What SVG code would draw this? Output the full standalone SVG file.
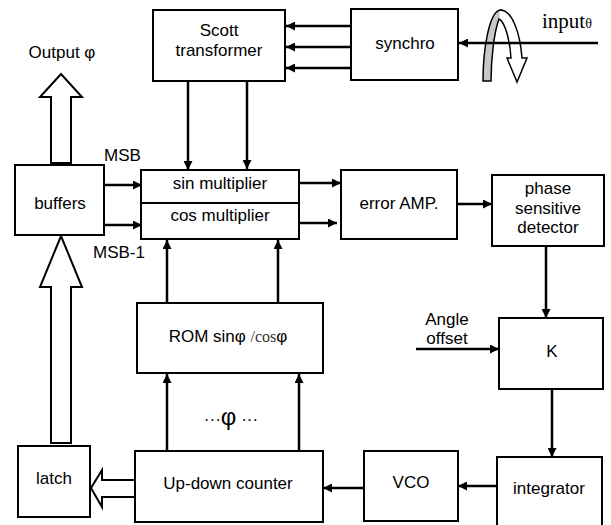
<svg xmlns="http://www.w3.org/2000/svg" width="611" height="525" viewBox="0 0 611 525">
<style>
  .box{fill:#fff;stroke:#000;stroke-width:2}
  .t{font-family:"Liberation Sans",Arial,sans-serif;font-size:17px;fill:#000;text-anchor:middle}
  .ln{stroke:#000;stroke-width:2.5;fill:none}
  .hollow{fill:#fff;stroke:#000;stroke-width:2}
</style>
<defs>
  <marker id="ah" viewBox="0 0 10 10" refX="10" refY="5" markerWidth="11" markerHeight="9" markerUnits="userSpaceOnUse" orient="auto">
    <path d="M0,0 L10,5 L0,10 Z" fill="#000"/>
  </marker>
</defs>
<rect width="611" height="525" fill="#fff"/>

<g id="connectors">
  <line class="ln" x1="351" y1="26" x2="286" y2="26" marker-end="url(#ah)"/>
  <line class="ln" x1="351" y1="47" x2="286" y2="47" marker-end="url(#ah)"/>
  <line class="ln" x1="351" y1="68" x2="286" y2="68" marker-end="url(#ah)"/>
  <line class="ln" x1="188" y1="81" x2="188" y2="170" marker-end="url(#ah)"/>
  <line class="ln" x1="247" y1="80" x2="247" y2="169" marker-end="url(#ah)"/>
  <line class="ln" x1="104" y1="185" x2="142" y2="185" marker-end="url(#ah)"/>
  <line class="ln" x1="100" y1="225" x2="142" y2="225" marker-end="url(#ah)"/>
  <line class="ln" x1="297" y1="183" x2="341" y2="183" marker-end="url(#ah)"/>
  <line class="ln" x1="297" y1="223" x2="337" y2="223" marker-end="url(#ah)"/>
  <line class="ln" x1="454" y1="204" x2="492" y2="204" marker-end="url(#ah)"/>
  <line class="ln" x1="546" y1="246" x2="546" y2="318" marker-end="url(#ah)"/>
  <line class="ln" x1="416" y1="349" x2="499" y2="349" marker-end="url(#ah)"/>
  <line class="ln" x1="552" y1="389" x2="552" y2="457" marker-end="url(#ah)"/>
  <line class="ln" x1="499" y1="486" x2="458" y2="486" marker-end="url(#ah)"/>
  <line class="ln" x1="364" y1="488" x2="323" y2="488" marker-end="url(#ah)"/>
  <line class="ln" x1="167" y1="303" x2="167" y2="240" marker-end="url(#ah)"/>
  <line class="ln" x1="278" y1="303" x2="278" y2="240" marker-end="url(#ah)"/>
  <line class="ln" x1="167" y1="451" x2="167" y2="374" marker-end="url(#ah)"/>
  <line class="ln" x1="299" y1="451" x2="299" y2="374" marker-end="url(#ah)"/>
  <!-- hollow arrows -->
  <path class="hollow" d="M51,163 L51,97 L40,97 L61,74 L82,97 L71,97 L71,163 Z"/>
  <path class="hollow" d="M51,443 L51,287 L40,287 L61,236 L82,287 L71,287 L71,443 Z"/>
  <path class="hollow" d="M135,480 L102,480 L102,470 L91,488 L102,507 L102,497 L135,497 Z"/>
  <!-- input rotation symbol -->
  <path d="M483,81 C483,50 489,12 500,10 C505,10 502,14 499,19 C494,32 491,60 491,81 Z" fill="#c8c8c8" stroke="#000" stroke-width="1.5"/>
  <path d="M500,10 C512,10 520,32 522,58 L527,58 L517,82 L507,58 L511,58 C510,40 505,22 499,19" fill="#fff" stroke="#000" stroke-width="1.5"/>
  <line class="ln" x1="598" y1="43" x2="459" y2="43" marker-end="url(#ah)"/>
</g>

<g id="scott"><rect class="box" x="153" y="10" width="132" height="71"/>
  <text class="t" x="219" y="36">Scott</text><text class="t" x="219" y="56">transformer</text></g>
<g id="synchro"><rect class="box" x="351" y="9" width="107" height="71"/>
  <text class="t" x="405" y="49">synchro</text></g>
<g id="input"><text x="542" y="28" font-family="Liberation Serif,'Times New Roman',serif" font-size="21">input<tspan font-size="14">θ</tspan></text></g>
<g id="output"><text class="t" x="62" y="58">Output φ</text></g>
<g id="msb"><text class="t" x="104" y="161" style="text-anchor:start">MSB</text></g>
<g id="msb1"><text class="t" x="93" y="258" style="text-anchor:start">MSB-1</text></g>
<g id="buffers"><rect class="box" x="15" y="165" width="89" height="70"/>
  <text class="t" x="60" y="209">buffers</text></g>
<g id="sinmul"><rect class="box" x="141" y="170" width="158" height="33"/>
  <text class="t" x="220" y="189">sin multiplier</text></g>
<g id="cosmul"><rect class="box" x="141" y="203" width="158" height="36"/>
  <text class="t" x="220" y="221">cos multiplier</text></g>
<g id="erroramp"><rect class="box" x="341" y="170" width="116" height="69"/>
  <text class="t" x="399" y="209">error AMP.</text></g>
<g id="psd"><rect class="box" x="492" y="175" width="112" height="71"/>
  <text class="t" x="548" y="194">phase</text><text class="t" x="548" y="214">sensitive</text><text class="t" x="548" y="233">detector</text></g>
<g id="angle"><text class="t" x="447" y="325">Angle</text><text class="t" x="447" y="344">offset</text></g>
<g id="k"><rect class="box" x="499" y="318" width="104" height="71"/>
  <text class="t" x="552" y="357">K</text></g>
<g id="rom"><rect class="box" x="137" y="303" width="186" height="70"/>
  <text class="t" x="228" y="342">ROM sinφ <tspan font-family="Liberation Serif,serif" font-size="16" fill="#333"> /cos</tspan>φ</text></g>
<g id="phi"><text class="t" x="231" y="425" font-size="17">···<tspan font-size="24">φ</tspan> ···</text></g>
<g id="counter"><rect class="box" x="135" y="451" width="188" height="71"/>
  <text class="t" x="228" y="489">Up-down counter</text></g>
<g id="latch"><rect class="box" x="18" y="446" width="72" height="71"/>
  <text class="t" x="54" y="484">latch</text></g>
<g id="vco"><rect class="box" x="364" y="451" width="94" height="70"/>
  <text class="t" x="411" y="488">VCO</text></g>
<g id="integrator"><path class="box" d="M497,526 L497,457 L602,457 L602,526"/>
  <text class="t" x="549" y="494">integrator</text></g>
</svg>
